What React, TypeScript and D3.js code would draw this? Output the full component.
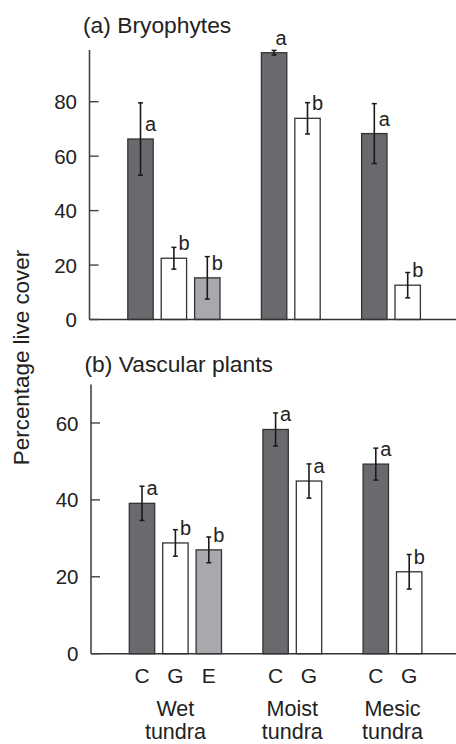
import React from "react";
import * as d3 from "d3";

const W = 456;
const H = 744;

const slots = ["Wet-C", "Wet-G", "Wet-E", "gap1", "Moist-C", "Moist-G", "gap2", "Mesic-C", "Mesic-G"];
const barSlots = ["Wet-C", "Wet-G", "Wet-E", "Moist-C", "Moist-G", "Mesic-C", "Mesic-G"];
const treatments = ["C", "G", "E", "C", "G", "C", "G"];
const groupNames = [["Wet", "tundra"], ["Moist", "tundra"], ["Mesic", "tundra"]];
const groupSlots = [["Wet-C", "Wet-E"], ["Moist-C", "Moist-G"], ["Mesic-C", "Mesic-G"]];

const bryoMean = [66.3, 22.5, 15.3, 98.0, 73.9, 68.3, 12.6];
const bryoSE = [13.3, 4.0, 7.8, 0.85, 5.75, 11.0, 4.65];
const bryoLetters = ["a", "b", "b", "a", "b", "a", "b"];
const bryoTicks = [0, 20, 40, 60, 80];

const vascMean = [39.1, 28.8, 27.0, 58.3, 44.9, 49.3, 21.3];
const vascSE = [4.45, 3.45, 3.35, 4.3, 4.45, 4.15, 4.5];
const vascLetters = ["a", "b", "b", "a", "a", "a", "b"];
const vascTicks = [0, 20, 40, 60];

const fills: Record<string, string> = { C: "#696a6e", G: "#ffffff", E: "#a8a9ac" };
const FONT = "'Liberation Sans', Arial, Helvetica, sans-serif";
const TEXT = "#222";

type PanelProps = {
  title: string;
  mean: number[];
  se: number[];
  letters: string[];
  ticks: number[];
  yMax: number;
  axisX: number;
  y0: number;
  y1: number;
  titleY: number;
  showX: boolean;
};

function Panel(p: PanelProps) {
  const x = d3
    .scaleBand<string>()
    .domain(slots)
    .range([p.axisX + 34.3, p.axisX + 34.3 + 9 * 33.4])
    .paddingInner(0.24)
    .paddingOuter(0.12);
  const y = d3.scaleLinear().domain([0, p.yMax]).range([p.y0, p.y1]);
  const bw = x.bandwidth();
  const cx = (s: string) => (x(s) as number) + bw / 2;

  return (
    <g>
      <text x={p.axisX - 6.5} y={p.titleY} fontSize={22.8} fill={TEXT} fontFamily={FONT}>
        {p.title}
      </text>
      {barSlots.map((s, i) => {
        const top = y(p.mean[i]);
        const eTop = y(p.mean[i] + p.se[i]);
        const eBot = y(p.mean[i] - p.se[i]);
        const c = cx(s);
        const base = top - 8;
        const above = eTop > base;
        return (
          <g key={s}>
            <rect
              x={x(s)}
              y={top}
              width={bw}
              height={y(0) - top}
              fill={fills[treatments[i]]}
              stroke="#333"
              strokeWidth={1.3}
            />
            <line x1={c} x2={c} y1={eTop} y2={eBot} stroke="#1a1a1a" strokeWidth={1.6} />
            <line x1={c - 2.5} x2={c + 2.5} y1={eTop} y2={eTop} stroke="#1a1a1a" strokeWidth={1.5} />
            <line x1={c - 2.5} x2={c + 2.5} y1={eBot} y2={eBot} stroke="#1a1a1a" strokeWidth={1.5} />
            <text
              x={above ? c + 1.5 : c + 4.5}
              y={base}
              fontSize={20}
              fill={TEXT}
              fontFamily={FONT}
            >
              {p.letters[i]}
            </text>
          </g>
        );
      })}
      <line x1={p.axisX} x2={p.axisX} y1={p.y1} y2={p.y0} stroke="#444" strokeWidth={1.6} />
      <line x1={p.axisX} x2={W} y1={p.y0} y2={p.y0} stroke="#333" strokeWidth={1.6} />
      {p.ticks.map((t) => (
        <g key={t}>
          <line x1={p.axisX} x2={p.axisX + 9} y1={y(t)} y2={y(t)} stroke="#444" strokeWidth={1.4} />
          <text
            x={p.axisX - 12.5}
            y={y(t)}
            dy="0.37em"
            textAnchor="end"
            fontSize={20.5}
            fill={TEXT}
            fontFamily={FONT}
          >
            {t}
          </text>
        </g>
      ))}
      {p.showX && (
        <g>
          {barSlots.map((s, i) => (
            <text
              key={s}
              x={cx(s)}
              y={p.y0 + 29.6}
              textAnchor="middle"
              fontSize={21}
              fill={TEXT}
              fontFamily={FONT}
            >
              {treatments[i]}
            </text>
          ))}
          {groupNames.map((g, gi) => {
            const gx = (cx(groupSlots[gi][0]) + cx(groupSlots[gi][1])) / 2;
            return (
              <text key={gi} textAnchor="middle" fontSize={21.5} fill={TEXT} fontFamily={FONT}>
                <tspan x={gx} y={p.y0 + 62}>{g[0]}</tspan>
                <tspan x={gx} y={p.y0 + 85.3}>{g[1]}</tspan>
              </text>
            );
          })}
        </g>
      )}
    </g>
  );
}

export default function App() {
  return (
    <svg
      width={W}
      height={H}
      viewBox={`0 0 ${W} ${H}`}
      style={{ position: "absolute", left: 0, top: 0, background: "#fff" }}
    >
      <rect x={0} y={0} width={W} height={H} fill="#fff" />
      <Panel
        title="(a) Bryophytes"
        mean={bryoMean}
        se={bryoSE}
        letters={bryoLetters}
        ticks={bryoTicks}
        yMax={99}
        axisX={89.5}
        y0={319.5}
        y1={50}
        titleY={33.3}
        showX={false}
      />
      <Panel
        title="(b) Vascular plants"
        mean={vascMean}
        se={vascSE}
        letters={vascLetters}
        ticks={vascTicks}
        yMax={70}
        axisX={91}
        y0={653.7}
        y1={384.5}
        titleY={371.7}
        showX={true}
      />
      <text
        transform={`translate(28.5, 357.5) rotate(-90)`}
        textAnchor="middle"
        fontSize={22.4}
        fill={TEXT}
        fontFamily={FONT}
      >
        Percentage live cover
      </text>
    </svg>
  );
}
